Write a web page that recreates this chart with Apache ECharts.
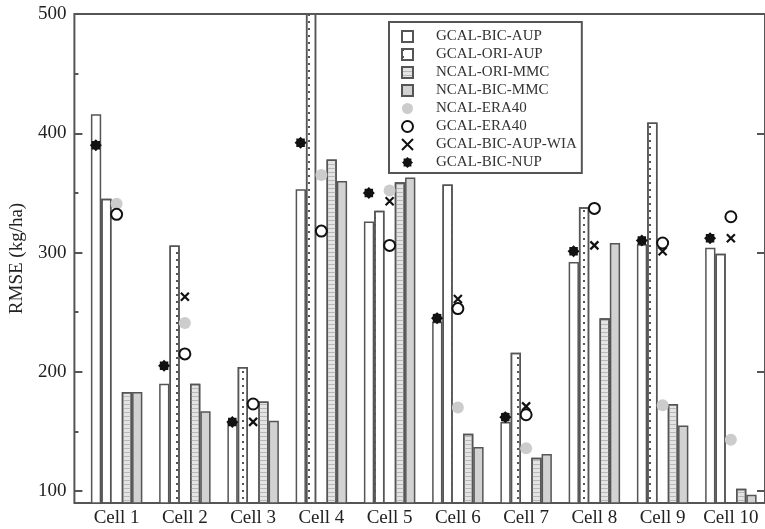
<!DOCTYPE html>
<html>
<head>
<meta charset="utf-8">
<script src="https://cdn.jsdelivr.net/npm/echarts@6/dist/echarts.min.js"></script>
<style>
  html, body { margin: 0; padding: 0; background: #fff; }
  #chart { width: 765px; height: 529px; }
</style>
</head>
<body>
<div id="chart"></div>
<script>
// Grid cells along the x axis
const cells = ['Cell 1', 'Cell 2', 'Cell 3', 'Cell 4', 'Cell 5', 'Cell 6', 'Cell 7', 'Cell 8', 'Cell 9', 'Cell 10'];

// Bar values, RMSE in kg/ha
const gcalBicAup = [416, 190, 158, 353, 326, 242, 158, 292, 307, 304];
const gcalOriAup = [345, 306, 204, 520, 335, 357, 216, 338, 409, 299];
const ncalOriMmc = [183, 190, 175, 378, 359, 148, 128, 245, 173, 102];
const ncalBicMmc = [183, 167, 159, 360, 363, 137, 131, 308, 155, 97];

// Point values, RMSE in kg/ha (null where no point is plotted)
const ncalEra40 = [341, 241, null, 365, 352, 170, 136, null, 172, 143];
const gcalEra40 = [332, 215, 173, 318, 306, 253, 164, 337, 308, 330];
const gcalBicAupWia = [null, 263, 158, null, 343, 261, 171, 306, 301, 312];
const gcalBicNup = [390, 205, 158, 392, 350, 245, 162, 301, 310, 312];

// Axis range and tick values
const yMin = 90;
const yMax = 500;
const yMajorTicks = [100, 200, 300, 400, 500];
const yMinorTicks = [150, 250, 350, 450];

const FONT = 'Liberation Serif';
const EDGE = '#555';
const slot = 20.8; // distance from the group centre to the first bar's centre

// 8-pointed filled star used for the NUP points
const starPath = 'path://M10,5 L8.55,6.47 L8.54,8.54 L6.47,8.55 L5,10 L3.53,8.55 L1.46,8.54 L1.45,6.47 L0,5 L1.45,3.53 L1.46,1.46 L3.53,1.45 L5,0 L6.47,1.45 L8.54,1.46 L8.55,3.53 Z';
const crossPath = 'path://M0,0 L10,10 M10,0 L0,10';

const barCommon = {
  type: 'bar',
  xAxisIndex: 1,
  yAxisIndex: 3,
  barGap: '0%',
  barCategoryGap: '24.6%',
  clip: true
};

const chart = echarts.init(document.getElementById('chart'), null, { renderer: 'canvas' });

chart.setOption({
  animation: false,
  backgroundColor: '#fff',
  grid: [
    // plot frame
    { left: 74, right: -1, top: 14, bottom: 26, show: true, borderColor: EDGE, borderWidth: 2, backgroundColor: 'transparent' },
    // data area (category bands)
    { left: 82.5, right: -7.5, top: 14, bottom: 26 }
  ],
  xAxis: [
    { gridIndex: 0, type: 'value', min: 0, max: 1, show: false },
    {
      gridIndex: 1,
      type: 'category',
      data: cells,
      boundaryGap: true,
      axisLine: { show: false },
      axisTick: { show: false },
      splitLine: { show: false },
      axisLabel: { interval: 0, margin: 6, color: '#222', fontFamily: FONT, fontSize: 19 }
    }
  ],
  yAxis: [
    {
      gridIndex: 0,
      type: 'value',
      position: 'left',
      min: yMin,
      max: yMax,
      name: 'RMSE (kg/ha)',
      nameLocation: 'middle',
      nameGap: 45,
      nameTextStyle: { color: '#222', fontFamily: FONT, fontSize: 19 },
      axisLine: { show: false },
      splitLine: { show: false },
      axisTick: { show: true, inside: true, length: 8, customValues: yMajorTicks, lineStyle: { color: EDGE, width: 2 } },
      axisLabel: { customValues: yMajorTicks, margin: 8, color: '#222', fontFamily: FONT, fontSize: 19 }
    },
    {
      gridIndex: 0,
      type: 'value',
      position: 'left',
      min: yMin,
      max: yMax,
      axisLine: { show: false },
      splitLine: { show: false },
      axisLabel: { show: false },
      axisTick: { show: true, inside: true, length: 4, customValues: yMinorTicks, lineStyle: { color: EDGE, width: 2 } }
    },
    {
      gridIndex: 0,
      type: 'value',
      position: 'right',
      min: yMin,
      max: yMax,
      axisLine: { show: false },
      splitLine: { show: false },
      axisLabel: { show: false },
      axisTick: { show: true, inside: true, length: 8, customValues: yMajorTicks, lineStyle: { color: EDGE, width: 2 } }
    },
    { gridIndex: 1, type: 'value', min: yMin, max: yMax, show: false }
  ],
  legend: {
    orient: 'vertical',
    left: 389,
    top: 22,
    padding: [7, 5, 3, 12],
    itemWidth: 11,
    itemHeight: 11,
    itemGap: 3,
    backgroundColor: '#fff',
    borderColor: EDGE,
    borderWidth: 2,
    textStyle: { color: '#333', fontFamily: FONT, fontSize: 15, lineHeight: 15, padding: [0, 0, 0, 18] },
    data: [
      { name: 'GCAL-BIC-AUP', icon: 'rect' },
      { name: 'GCAL-ORI-AUP', icon: 'rect' },
      { name: 'NCAL-ORI-MMC', icon: 'rect' },
      { name: 'NCAL-BIC-MMC', icon: 'rect' },
      'NCAL-ERA40',
      'GCAL-ERA40',
      'GCAL-BIC-AUP-WIA',
      'GCAL-BIC-NUP'
    ]
  },
  series: [
    Object.assign({}, barCommon, {
      name: 'GCAL-BIC-AUP',
      data: gcalBicAup,
      itemStyle: { color: '#fff', borderColor: EDGE, borderWidth: 1.5 }
    }),
    Object.assign({}, barCommon, {
      name: 'GCAL-ORI-AUP',
      data: gcalOriAup,
      itemStyle: {
        color: '#fff', borderColor: EDGE, borderWidth: 1.5,
        decal: { symbol: 'rect', symbolSize: 1, color: '#555', dashArrayX: [2, 8.4], dashArrayY: [1.5, 4.5] }
      }
    }),
    // empty slot in the middle of each group, where the points sit
    Object.assign({}, barCommon, { name: 'slot', data: [] }),
    Object.assign({}, barCommon, {
      name: 'NCAL-ORI-MMC',
      data: ncalOriMmc,
      itemStyle: {
        color: '#e4e4e4', borderColor: EDGE, borderWidth: 1.5,
        decal: { symbol: 'rect', symbolSize: 1, color: '#b8b8b8', dashArrayX: [1, 0], dashArrayY: [1, 2.5] }
      }
    }),
    Object.assign({}, barCommon, {
      name: 'NCAL-BIC-MMC',
      data: ncalBicMmc,
      itemStyle: { color: '#d2d2d2', borderColor: EDGE, borderWidth: 1.5 }
    }),
    {
      name: 'NCAL-ERA40',
      type: 'scatter',
      xAxisIndex: 1,
      yAxisIndex: 3,
      z: 3,
      data: ncalEra40,
      symbol: 'circle',
      symbolSize: 12,
      itemStyle: { color: '#cccccc', opacity: 1 }
    },
    {
      name: 'GCAL-ERA40',
      type: 'scatter',
      xAxisIndex: 1,
      yAxisIndex: 3,
      z: 4,
      data: gcalEra40,
      symbol: 'circle',
      symbolSize: 11,
      itemStyle: { color: '#fff', borderColor: '#111', borderWidth: 2, opacity: 1 }
    },
    {
      name: 'GCAL-BIC-AUP-WIA',
      type: 'scatter',
      xAxisIndex: 1,
      yAxisIndex: 3,
      z: 5,
      data: gcalBicAupWia,
      symbol: crossPath,
      symbolSize: 8,
      itemStyle: { color: 'rgba(0,0,0,0)', borderColor: '#111', borderWidth: 2.2, opacity: 1 }
    },
    {
      name: 'GCAL-BIC-NUP',
      type: 'scatter',
      xAxisIndex: 1,
      yAxisIndex: 3,
      z: 5,
      data: gcalBicNup,
      symbol: starPath,
      symbolSize: 12,
      symbolOffset: [-slot, 0],
      itemStyle: { color: '#111', opacity: 1 }
    }
  ]
});
</script>
</body>
</html>
